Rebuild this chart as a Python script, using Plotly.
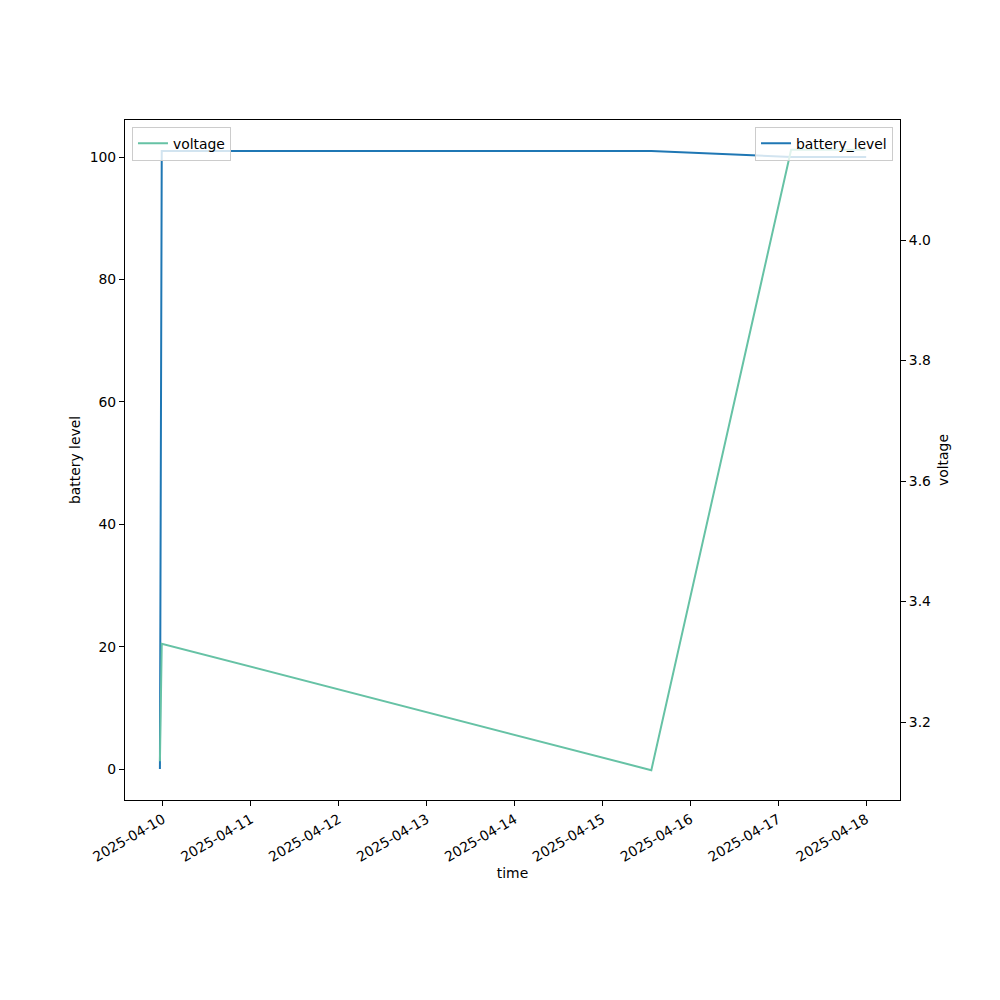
import plotly.graph_objects as go

times = ["2025-04-09 23:10", "2025-04-09 23:40", "2025-04-15 13:20",
         "2025-04-17 03:30", "2025-04-18 00:00"]
battery_level = [0, 101, 101, 100, 100]
voltage = [3.135, 3.33, 3.12, 4.15, 4.15]

x_ticks = ["2025-04-10", "2025-04-11", "2025-04-12", "2025-04-13", "2025-04-14",
           "2025-04-15", "2025-04-16", "2025-04-17", "2025-04-18"]
y1_ticks = [0, 20, 40, 60, 80, 100]
y2_ticks = [3.2, 3.4, 3.6, 3.8, 4.0]

FONT = "DejaVu Sans"
FS = 13.9

fig = go.Figure()
fig.add_trace(go.Scatter(x=times, y=battery_level, mode="lines", name="battery_level",
                         line=dict(color="#1f77b4", width=2), yaxis="y", legend="legend2",
                         showlegend=True))
fig.add_trace(go.Scatter(x=times, y=voltage, mode="lines", name="voltage",
                         line=dict(color="#66c2a5", width=2), yaxis="y2", legend="legend",
                         showlegend=True))

axis_common = dict(showgrid=False, zeroline=False, showline=True, linecolor="black",
                   linewidth=1.1, ticks="outside", ticklen=5, tickwidth=1.1,
                   tickcolor="black", tickfont=dict(family=FONT, size=FS, color="black"))

fig.update_layout(
    width=992, height=992,
    margin=dict(l=117, r=100, t=112, b=200),
    showlegend=True,
    paper_bgcolor="white", plot_bgcolor="white",
    font=dict(family=FONT, size=FS, color="black"),
    xaxis=dict(**axis_common, type="date", mirror=True,
               range=["2025-04-09 13:38", "2025-04-18 09:14"],
               tickvals=x_ticks, ticktext=x_ticks, tickangle=-30,
               title=dict(text="time", font=dict(family=FONT, size=FS), standoff=4)),
    yaxis=dict(**axis_common, mirror=True, range=[-5.05, 106.05], tickvals=y1_ticks,
               title=dict(text="battery level", font=dict(family=FONT, size=FS), standoff=5)),
    yaxis2=dict(**axis_common, overlaying="y", side="right", range=[3.0705, 4.1995],
                tickvals=y2_ticks, tickformat=".1f",
                title=dict(text="voltage", font=dict(family=FONT, size=FS), standoff=8)),
    legend=dict(x=0.009, y=0.99, xanchor="left", yanchor="top",
                bgcolor="rgba(255,255,255,0.8)", bordercolor="#cccccc", borderwidth=1,
                font=dict(family=FONT, size=FS)),
    legend2=dict(x=0.991, y=0.99, xanchor="right", yanchor="top",
                 bgcolor="rgba(255,255,255,0.8)", bordercolor="#cccccc", borderwidth=1,
                 font=dict(family=FONT, size=FS)),
)

fig.write_html("out.html")
